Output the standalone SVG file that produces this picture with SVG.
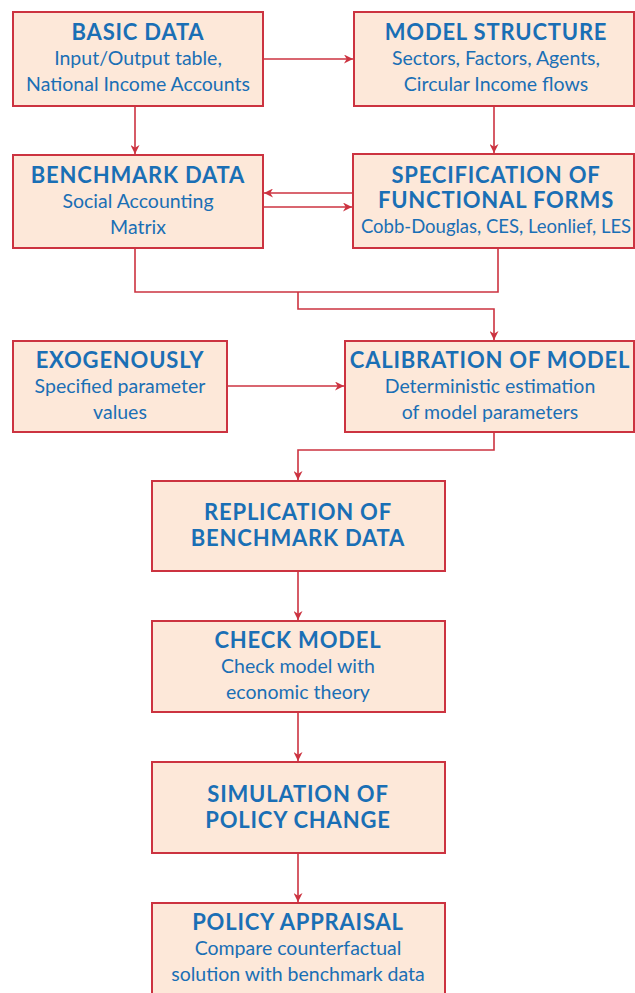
<svg xmlns="http://www.w3.org/2000/svg" width="635" height="993" viewBox="0 0 635 993">
<style>
.box{fill:#fde8d9;stroke:#cc3340;stroke-width:2}
.t{font-family:Lato,"Open Sans",sans-serif;font-size:22px;font-weight:bold;letter-spacing:0.8px;fill:#1a6fb5;text-anchor:middle}
.b{font-family:Lato,"Open Sans",sans-serif;font-size:19.5px;fill:#1a6fb5;text-anchor:middle}
.c{fill:none;stroke:#cc3340;stroke-width:1.6}
</style>
<defs>
<marker id="ah" viewBox="0 0 10 10" refX="10" refY="5" markerWidth="9" markerHeight="9" orient="auto" markerUnits="userSpaceOnUse">
<path d="M0,0 L10,5 L0,10 L3,5 Z" fill="#cc3340"/>
</marker>
</defs>
<rect width="635" height="993" fill="#fff"/>
<g id="connectors">
<path class="c" d="M263,59 H353" marker-end="url(#ah)"/>
<path class="c" d="M135,106 V154" marker-end="url(#ah)"/>
<path class="c" d="M494,106 V153" marker-end="url(#ah)"/>
<path class="c" d="M353,193 H264" marker-end="url(#ah)"/>
<path class="c" d="M263,207 H352" marker-end="url(#ah)"/>
<path class="c" d="M135,248 V292 H498 V248"/>
<path class="c" d="M298,292 V309 H494 V340" marker-end="url(#ah)"/>
<path class="c" d="M227,386 H344" marker-end="url(#ah)"/>
<path class="c" d="M494,432 V450 H298 V480" marker-end="url(#ah)"/>
<path class="c" d="M298,571 V620" marker-end="url(#ah)"/>
<path class="c" d="M298,712 V761" marker-end="url(#ah)"/>
<path class="c" d="M298,853 V902" marker-end="url(#ah)"/>
</g>
<g id="basic-data">
<rect class="box" x="13" y="12" width="250" height="94"/>
<text class="t" x="138" y="40">BASIC DATA</text>
<text class="b" x="138" y="65">Input/Output table,</text>
<text class="b" x="138" y="91">National Income Accounts</text>
</g>
<g id="model-structure">
<rect class="box" x="354" y="12" width="280" height="94"/>
<text class="t" x="496" y="40">MODEL STRUCTURE</text>
<text class="b" x="496" y="65">Sectors, Factors, Agents,</text>
<text class="b" x="496" y="91">Circular Income flows</text>
</g>
<g id="benchmark-data">
<rect class="box" x="13" y="155" width="250" height="93"/>
<text class="t" x="138" y="183">BENCHMARK DATA</text>
<text class="b" x="138" y="208">Social Accounting</text>
<text class="b" x="138" y="234">Matrix</text>
</g>
<g id="specification">
<rect class="box" x="353" y="154" width="281" height="94"/>
<text class="t" x="496" y="183">SPECIFICATION OF</text>
<text class="t" x="496" y="208">FUNCTIONAL FORMS</text>
<text class="b" x="496" y="233" style="font-size:18.5px">Cobb-Douglas, CES, Leonlief, LES</text>
</g>
<g id="exogenously">
<rect class="box" x="13" y="341" width="214" height="91"/>
<text class="t" x="120" y="368">EXOGENOUSLY</text>
<text class="b" x="120" y="393">Specified parameter</text>
<text class="b" x="120" y="419">values</text>
</g>
<g id="calibration">
<rect class="box" x="345" y="341" width="289" height="91"/>
<text class="t" x="490" y="368">CALIBRATION OF MODEL</text>
<text class="b" x="490" y="393">Deterministic estimation</text>
<text class="b" x="490" y="419">of model parameters</text>
</g>
<g id="replication">
<rect class="box" x="152" y="481" width="293" height="90"/>
<text class="t" x="298" y="520">REPLICATION OF</text>
<text class="t" x="298" y="546">BENCHMARK DATA</text>
</g>
<g id="check-model">
<rect class="box" x="152" y="621" width="293" height="91"/>
<text class="t" x="298" y="648">CHECK MODEL</text>
<text class="b" x="298" y="673">Check model with</text>
<text class="b" x="298" y="699">economic theory</text>
</g>
<g id="simulation">
<rect class="box" x="152" y="762" width="293" height="91"/>
<text class="t" x="298" y="802">SIMULATION OF</text>
<text class="t" x="298" y="828">POLICY CHANGE</text>
</g>
<g id="policy-appraisal">
<rect class="box" x="152" y="903" width="293" height="100"/>
<text class="t" x="298" y="930">POLICY APPRAISAL</text>
<text class="b" x="298" y="955">Compare counterfactual</text>
<text class="b" x="298" y="981">solution with benchmark data</text>
</g>
</svg>
